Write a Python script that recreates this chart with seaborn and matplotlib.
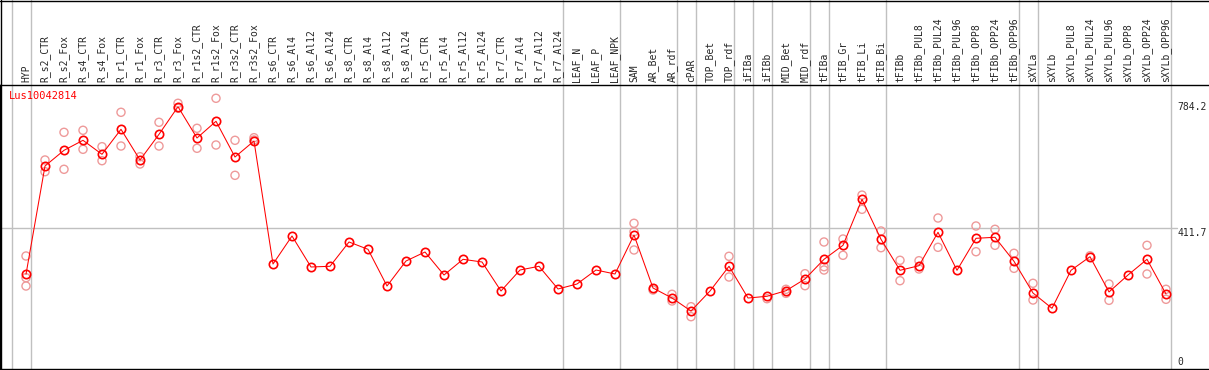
import numpy as np
import pandas as pd
import matplotlib
matplotlib.use("Agg")
import matplotlib.pyplot as plt
from matplotlib.lines import Line2D
import seaborn as sns

nan = np.nan

# ---- data ----
gene = "Lus10042814"

tissues = ["HYP", "R_s2_CTR", "R_s2_Fox", "R_s4_CTR", "R_s4_Fox", "R_r1_CTR", "R_r1_Fox",
           "R_r3_CTR", "R_r3_Fox", "R_r1s2_CTR", "R_r1s2_Fox", "R_r3s2_CTR", "R_r3s2_Fox",
           "R_s6_CTR", "R_s6_Al4", "R_s6_Al12", "R_s6_Al24", "R_s8_CTR", "R_s8_Al4",
           "R_s8_Al12", "R_s8_Al24", "R_r5_CTR", "R_r5_Al4", "R_r5_Al12", "R_r5_Al24",
           "R_r7_CTR", "R_r7_Al4", "R_r7_Al12", "R_r7_Al24", "LEAF_N", "LEAF_P", "LEAF_NPK",
           "SAM", "AR_Bet", "AR_rdf", "cPAR", "TOP_Bet", "TOP_rdf", "iFIBa", "iFIBb",
           "MID_Bet", "MID_rdf", "tFIBa", "tFIB_Gr", "tFIB_Li", "tFIB_Bi", "tFIBb",
           "tFIBb_PUL8", "tFIBb_PUL24", "tFIBb_PUL96", "tFIBb_OPP8", "tFIBb_OPP24",
           "tFIBb_OPP96", "sXYLa", "sXYLb", "sXYLb_PUL8", "sXYLb_PUL24", "sXYLb_PUL96",
           "sXYLb_OPP8", "sXYLb_OPP24", "sXYLb_OPP96"]

mean_expr = [274.9, 595.0, 641.4, 671.0, 629.6, 703.5, 612.8, 688.7, 770.3, 677.8, 727.2,
             621.6, 668.9, 305.3, 388.1, 296.5, 298.6, 370.4, 348.8, 240.3, 314.2, 340.8,
             272.8, 319.2, 311.3, 225.5, 287.6, 298.6, 231.5, 246.2, 287.6, 275.8, 391.1,
             234.4, 204.8, 166.4, 225.5, 298.6, 204.8, 209.9, 226.4, 261.0, 319.2, 360.6,
             496.6, 378.4, 286.7, 300.3, 399.1, 286.7, 381.3, 384.3, 313.3, 219.6, 174.4,
             286.7, 326.9, 222.6, 272.8, 319.2, 216.7]

rep_hi = [329.0, 612.8, 694.6, 700.6, 652.1, 753.8, 622.5, 724.2, 780.4, 706.5, 795.2,
          671.0, 678.7, nan, nan, nan, nan, nan, nan, nan, nan, nan, nan, nan, nan, nan,
          nan, nan, nan, nan, nan, nan, 425.7, 228.5, 215.9, 179.1, nan, 328.1, nan, 202.8,
          230.6, 276.7, 370.4, 379.2, 509.0, 402.9, 316.3, 315.1, 441.3, nan, 417.7, 407.9,
          337.0, 248.3, nan, nan, 329.6, 246.2, nan, 360.6, 230.6]

rep_lo = [240.3, 578.2, 585.3, 644.4, 610.7, 654.1, 600.9, 654.1, 765.6, 647.4, 657.1,
          567.5, 671.9, nan, nan, nan, nan, nan, nan, nan, nan, nan, nan, nan, nan, nan,
          nan, nan, nan, nan, nan, nan, 346.8, nan, 196.0, 149.6, nan, 266.9, nan, nan,
          218.7, 241.2, 297.4, 331.1, 467.0, 353.5, 256.0, 290.6, 354.7, nan, 341.7, 360.6,
          292.6, 198.9, nan, nan, nan, 198.0, nan, 275.8, 201.0]

rep_mid = [264.9] + [nan] * 31 + [400.8] + [nan] * 9 + [287.6] + [nan] * 18

# last tissue index of each group (separators drawn after these)
group_ends = [-1, 0, 28, 31, 34, 35, 37, 38, 39, 41, 42, 45, 52, 53, 60]

scale_labels = [784.2, 411.7, 0]

# ---- frames ----
pos = np.arange(len(tissues))
df = pd.DataFrame({"tissue": tissues, "pos": pos, "mean": mean_expr})
reps = pd.DataFrame({"pos": np.concatenate([pos, pos, pos]),
                     "value": rep_hi + rep_lo + rep_mid}).dropna()

sns.set_style("white")
plt.rcParams["font.family"] = ["DejaVu Sans Mono", "DejaVu Sans"]

W, H = 1209, 370
fig = plt.figure(figsize=(W / 100, H / 100), dpi=100)

# axes box in pixel terms: top 85, bottom 369, full width
top_px, bot_px = 85, 369
ax = fig.add_axes([0, 1 - bot_px / H, 1, (bot_px - top_px) / H])

x0_px, step_px = 26, 19
ax.set_xlim((0 - x0_px) / step_px, (W - x0_px) / step_px)
zero_px, px_per_unit = 367.3, 0.3383
ax.set_ylim((zero_px - bot_px) / px_per_unit, (zero_px - top_px) / px_per_unit)

grey = "#c0c0c0"
header_frac = 1 + top_px / (bot_px - top_px)
for g in group_ends:
    ax.axvline(g + 0.25, ymin=0, ymax=header_frac, color=grey, lw=1.0, clip_on=False, zorder=0)
ax.axhline(411.7, xmin=0, xmax=1177 / W, color=grey, lw=1.0, zorder=0)

# replicates
sns.scatterplot(data=reps, x="pos", y="value", ax=ax, marker="o", s=34,
                facecolor="none", edgecolor="#ee9a9a", linewidth=1.0, zorder=2, legend=False)

# mean line
sns.lineplot(data=df, x="pos", y="mean", ax=ax, color="red", lw=0.75, sort=False,
             estimator=None, marker="o", ms=6, mfc="none", mec="red", mew=1.2, zorder=3)

# header labels along the top
ax.set_xticks(pos)
ax.set_xticklabels(tissues, rotation=90, fontsize=7)
ax.tick_params(axis="x", top=True, labeltop=True, bottom=False, labelbottom=False,
               length=0, pad=2)
ax.set_yticks([])
ax.set_xlabel("")
ax.set_ylabel("")

for s in ["left", "bottom", "top"]:
    ax.spines[s].set_visible(True)
    ax.spines[s].set_color("black")
    ax.spines[s].set_linewidth(1.0)
ax.spines["right"].set_visible(False)

# scale values on the right
for v in scale_labels:
    if v == 0:
        ax.text(1177 / W, 2, "0", transform=ax.get_yaxis_transform(), ha="left",
                va="bottom", fontsize=7)
    else:
        ax.text(1177 / W, v, f"{v}", transform=ax.get_yaxis_transform(), ha="left",
                va="top", fontsize=7)

fig.text(9 / W, 1 - 91 / H, gene, color="red", fontsize=7.5, ha="left", va="top")

# outer frame of the header
fig.add_artist(Line2D([0, 1], [1 - 0.5 / H, 1 - 0.5 / H], color="black", lw=1.0))
fig.add_artist(Line2D([0.5 / W, 0.5 / W], [0, 1], color="black", lw=1.0))

fig.savefig("out.png", dpi=100)
